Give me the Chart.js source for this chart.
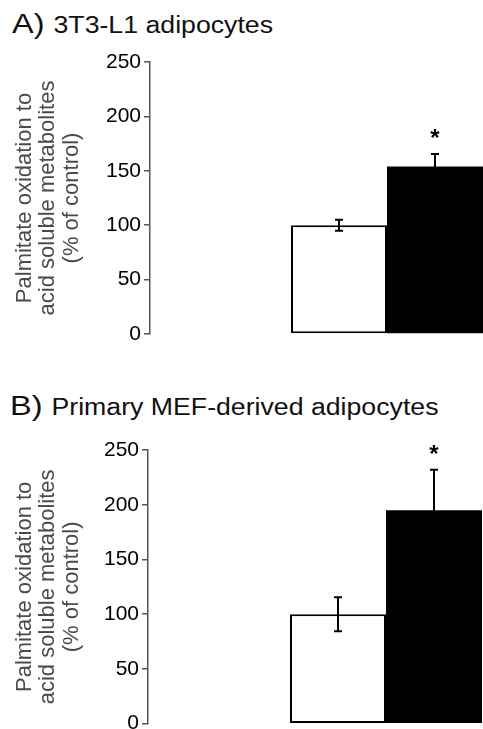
<!DOCTYPE html>
<html>
<head>
<meta charset="utf-8">
<script src="https://cdn.jsdelivr.net/npm/chart.js@4/dist/chart.umd.min.js"></script>
<style>
  html, body { margin: 0; padding: 0; background: #fff; width: 483px; height: 729px; overflow: hidden; position: relative; }
  .ttl { position: absolute; left: 12px; font-family: "Liberation Sans", Arial, Helvetica, sans-serif; color: #111;
         font-size: 28px; line-height: 28px; white-space: nowrap; transform: scaleX(1.16); transform-origin: 0 0; }
  .ttl .rest { font-size: 23px; }
  .cv { position: absolute; left: 0; }
</style>
</head>
<body>
<div class="ttl" id="titleA" style="top:10px;">A) <span class="rest">3T3-L1 adipocytes</span></div>
<div class="ttl" id="titleB" style="top:392px; left:10px;">B) <span class="rest">Primary MEF-derived adipocytes</span></div>
<canvas id="chartA" class="cv" style="top:40px;" width="624" height="310"></canvas>
<canvas id="chartB" class="cv" style="top:430px;" width="624" height="322"></canvas>
<script>
// ---- data ----
const groups = ['Control', 'Treated'];
const yTitle = ['Palmitate oxidation to', 'acid soluble metabolites', '(% of control)'];
const yTicks = [0, 50, 100, 150, 200, 250];

const valuesA = [100, 154];
const errorsA = [5, 11.5];
const sigA = [false, true];

const valuesB = [100, 195];
const errorsB = [15.5, 37];
const sigB = [false, true];

const FONT = '"Liberation Sans", Arial, Helvetica, sans-serif';

const errorBarPlugin = {
  id: 'errorBars',
  afterDatasetsDraw(chart, args, opts) {
    const ctx = chart.ctx;
    const y = chart.scales.y;
    chart.data.datasets.forEach((ds, i) => {
      const bar = chart.getDatasetMeta(i).data[0];
      const v = ds.data[0];
      const e = ds.errors[0];
      const x = bar.x;
      const yTop = y.getPixelForValue(v + e);
      const yBot = y.getPixelForValue(v - e);
      ctx.save();
      ctx.strokeStyle = '#000';
      ctx.lineWidth = 2;
      ctx.beginPath();
      ctx.moveTo(x, yTop); ctx.lineTo(x, yBot);
      ctx.moveTo(x - 4, yTop); ctx.lineTo(x + 4, yTop);
      ctx.moveTo(x - 4, yBot); ctx.lineTo(x + 4, yBot);
      ctx.stroke();
      if (ds.sig[0]) {
        ctx.fillStyle = '#000';
        ctx.font = 'bold 24px ' + FONT;
        ctx.textAlign = 'center';
        ctx.textBaseline = 'alphabetic';
        ctx.fillText('*', x, yTop - 21 + 13);
      }
      ctx.restore();
    });
  }
};

function makeChart(id, values, errors, sig, axisX, padTop, padBottom) {
  const canvas = document.getElementById(id);
  const W = canvas.width;
  const groupWidth = 192;
  return new Chart(canvas, {
    type: 'bar',
    data: {
      labels: [''],
      datasets: [
        { label: groups[0], data: [values[0]], errors: [errors[0]], sig: [sig[0]],
          backgroundColor: '#ffffff', borderColor: '#000000', borderWidth: 2, borderSkipped: false },
        { label: groups[1], data: [values[1]], errors: [errors[1]], sig: [sig[1]],
          backgroundColor: '#000000', borderColor: '#000000', borderWidth: 0 }
      ]
    },
    options: {
      responsive: false,
      animation: false,
      devicePixelRatio: 1,
      layout: { padding: { top: padTop, bottom: padBottom, left: 0, right: 0 } },
      datasets: { bar: { barPercentage: 1, categoryPercentage: groupWidth / (W - axisX) } },
      plugins: { legend: { display: false }, tooltip: { enabled: false } },
      scales: {
        x: { display: false, offset: true },
        y: {
          min: 0, max: 250,
          afterBuildTicks(scale) { scale.ticks = yTicks.map(v => ({ value: v })); },
          afterFit(scale) { scale.width = axisX; },
          grid: { display: true, drawOnChartArea: false, drawTicks: true, tickLength: 6, color: '#555', lineWidth: 1.5 },
          border: { display: true, color: '#555', width: 1.5 },
          ticks: { color: '#000', font: { family: FONT, size: 21 }, padding: 3 },
          title: { display: true, text: yTitle, color: '#4a4a4a',
                   font: { family: FONT, size: 22, lineHeight: 1.07 }, padding: { top: 13, bottom: 0 } }
        }
      }
    },
    plugins: [errorBarPlugin]
  });
}

makeChart('chartA', valuesA, errorsA, sigA, 150, 22, 16);
makeChart('chartB', valuesB, errorsB, sigB, 148, 20, 28.3);
</script>
</body>
</html>
